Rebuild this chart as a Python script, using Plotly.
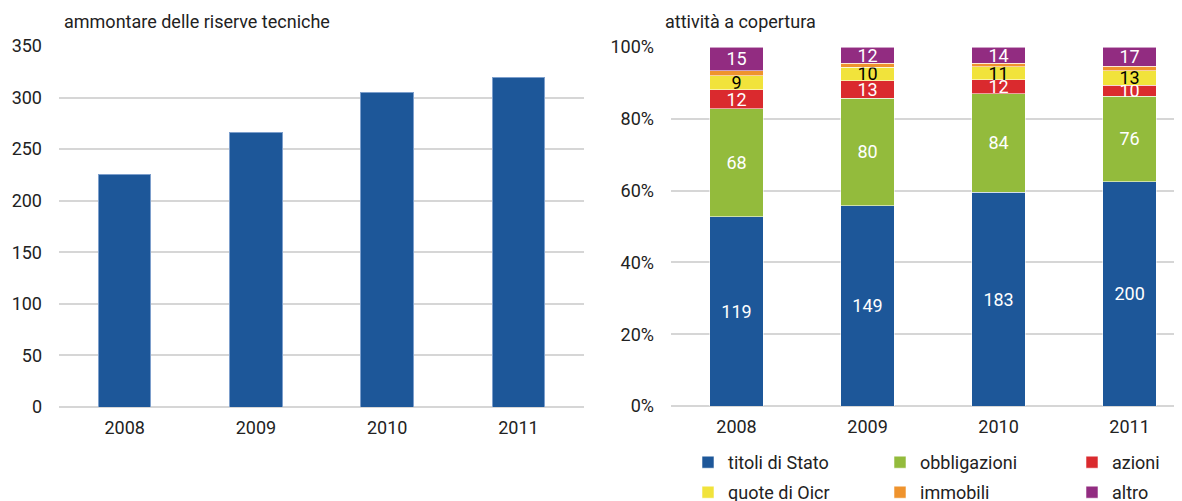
import plotly.graph_objects as go

years = ["2008", "2009", "2010", "2011"]
riserve = [225, 266, 305, 319]

series_names = ["titoli di Stato", "obbligazioni", "azioni", "quote di Oicr", "immobili", "altro"]
titoli = [119, 149, 183, 200]
obbligazioni = [68, 80, 84, 76]
azioni = [12, 13, 12, 10]
quote = [9, 10, 11, 13]
immobili = [3, 3, 3, 4]
altro = [15, 12, 14, 17]

colors = ["#1d5799", "#93bb3c", "#da2a2e", "#f1e33b", "#ef932d", "#922c81"]
label_colors = ["white", "white", "white", "black", None, "white"]

FONT = "Roboto, Liberation Sans, sans-serif"
TXT = "#222222"

# page has an 8px body margin; size the figure so it fits the window
OFF = 8
W, H = 1182 - OFF, 501 - OFF


def px(x):
    return (x - OFF) / W


def py(y):
    return 1 - (y - OFF) / H


all_series = [titoli, obbligazioni, azioni, quote, immobili, altro]
totals = [sum(s[j] for s in all_series) for j in range(len(years))]

fig = go.Figure()

fig.add_trace(go.Bar(
    x=years, y=riserve, xaxis="x", yaxis="y",
    marker=dict(color="#1d5799", line=dict(color="#7d9fcc", width=1)),
    width=0.4, showlegend=False, hoverinfo="x+y",
))

for i, (name, vals) in enumerate(zip(series_names, all_series)):
    show_text = label_colors[i] is not None
    pct = [v / t * 100 for v, t in zip(vals, totals)]
    fig.add_trace(go.Bar(
        x=years, y=pct, name=name, xaxis="x2", yaxis="y2",
        marker=dict(color=colors[i], line=dict(color="rgba(255,255,255,0.55)", width=1)),
        width=0.41,
        text=[str(v) for v in vals] if show_text else None,
        textposition="inside" if show_text else "none",
        insidetextanchor="middle", textangle=0,
        textfont=dict(color=label_colors[i] or "white", size=18, family=FONT),
        hovertext=[str(v) for v in vals], hoverinfo="name+x+text",
        legend="legend" if i < 3 else "legend2",
    ))

axis_font = dict(family=FONT, size=18, color=TXT)
leg_font = dict(family=FONT, size=18, color=TXT)

fig.update_layout(
    width=W, height=H,
    margin=dict(l=0, r=0, t=0, b=0, autoexpand=False),
    paper_bgcolor="white", plot_bgcolor="white",
    barmode="stack",
    font=dict(family=FONT, size=18, color=TXT),
    uniformtext=dict(minsize=18, mode="show"),
    xaxis=dict(domain=[px(59), px(584)], anchor="y", range=[-0.5, 3.5],
               showgrid=False, ticks="", tickfont=axis_font, ticklabelstandoff=8,
               showline=False, zeroline=False, automargin=False),
    yaxis=dict(domain=[py(407), py(46)], anchor="x", range=[0, 350], dtick=50,
               showgrid=True, gridcolor="#d6d6d6", gridwidth=2, zeroline=True,
               zerolinecolor="#d6d6d6", zerolinewidth=2, ticks="",
               tickfont=axis_font, ticklabelstandoff=16, automargin=False),
    xaxis2=dict(domain=[px(671), 1.0], anchor="y2", range=[-0.5, 3.4],
                showgrid=False, ticks="", tickfont=axis_font, ticklabelstandoff=8,
                showline=False, zeroline=False, automargin=False),
    yaxis2=dict(domain=[py(406), py(47)], anchor="x2", range=[0, 100], dtick=20,
                ticksuffix="%", showgrid=True, gridcolor="#d6d6d6", gridwidth=2,
                zeroline=True, zerolinecolor="#d6d6d6", zerolinewidth=2, ticks="",
                tickfont=axis_font, ticklabelstandoff=16, automargin=False),
    legend=dict(orientation="h", x=px(688), y=py(444), xanchor="left", yanchor="top",
                entrywidth=147, entrywidthmode="pixels", font=leg_font,
                bgcolor="rgba(0,0,0,0)", traceorder="normal", tracegroupgap=0),
    legend2=dict(orientation="h", x=px(688), y=py(474), xanchor="left", yanchor="top",
                 entrywidth=147, entrywidthmode="pixels", font=leg_font,
                 bgcolor="rgba(0,0,0,0)", traceorder="normal", tracegroupgap=0),
    annotations=[
        dict(text="ammontare delle riserve tecniche", x=px(62), y=py(22), xref="paper", yref="paper",
             xanchor="left", yanchor="middle", showarrow=False, font=dict(family=FONT, size=18, color=TXT)),
        dict(text="attività a copertura", x=px(663), y=py(22), xref="paper", yref="paper",
             xanchor="left", yanchor="middle", showarrow=False, font=dict(family=FONT, size=18, color=TXT)),
    ],
)

fig.write_html("out.html")
